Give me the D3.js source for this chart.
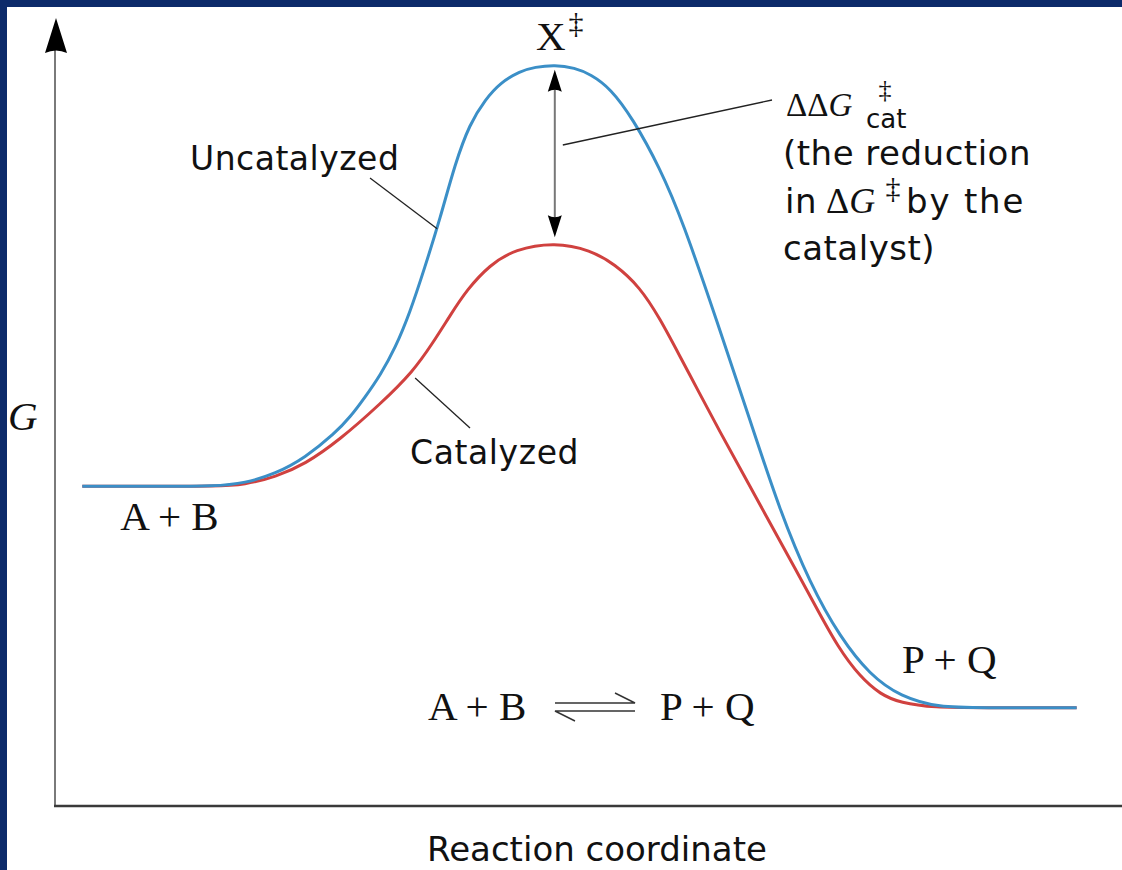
<!DOCTYPE html>
<html>
<head>
<meta charset="utf-8">
<script src="https://cdn.jsdelivr.net/npm/d3@7"></script>
<style>
  html, body { margin: 0; padding: 0; background: #0c2a6a; }
  #chart { width: 1122px; height: 870px; }
</style>
</head>
<body>
<div id="chart"></div>
<script>
// ============================
// Data
// ============================

// Uncatalyzed path: reaction coordinate vs free energy G
const uncatX = [2.6, 10.0, 15.2, 18.1, 21.0, 23.8, 26.7, 28.1, 29.5, 31.0, 32.4, 33.8, 35.2, 36.7, 38.1, 39.5, 41.0, 42.4,
                44.3, 45.7, 47.6, 49.5, 51.0, 52.9, 55.0, 57.6, 59.8, 63.0, 66.2, 69.0, 71.9, 74.8, 77.6, 80.5, 84.3, 88.0, 97.3];
const uncatG = [40.6, 40.6, 40.6, 41.0, 42.2, 44.2, 47.4, 49.4, 51.9, 54.8, 58.2, 62.7, 68.4, 74.8, 81.7, 86.8, 89.9, 92.0,
                93.5, 94.0, 94.3, 93.9, 93.1, 91.3, 87.5, 81.2, 74.3, 61.8, 49.0, 37.6, 28.2, 21.3, 16.6, 13.8, 12.4, 12.4, 12.4];

// Catalyzed path
const catX = [2.6, 10.0, 15.2, 18.1, 21.0, 23.8, 27.1, 31.0, 34.1, 36.0, 37.6, 39.2, 41.4, 43.8, 47.6, 51.0, 53.3,
              55.7, 57.6, 59.5, 61.4, 63.3, 65.7, 68.1, 70.5, 72.4, 74.6, 76.7, 78.6, 80.5, 83.8, 88.0, 97.3];
const catG = [40.6, 40.6, 40.6, 40.8, 41.8, 43.4, 46.5, 51.1, 55.2, 58.9, 62.3, 65.6, 68.8, 70.8, 71.7, 70.7, 68.9,
              66.0, 62.0, 57.2, 52.4, 47.6, 41.8, 35.9, 30.1, 25.4, 20.0, 16.3, 14.1, 13.0, 12.4, 12.4, 12.4];

const xTitle = "Reaction coordinate";
const yTitle = "G";

// ============================
// Intial setup
// ============================

const width = 1122;
const height = 870;
const border = 7;

const serif = "'Liberation Serif', 'Times New Roman', serif";
const sans = "'DejaVu Sans', sans-serif";

const blue = "#3b8fc7";
const red = "#d0413f";

const xscale = d3.scaleLinear().domain([0, 100]).range([55, 1105]);
const yscale = d3.scaleLinear().domain([0, 100]).range([805, 20]);

const svg = d3.select("#chart").append("svg")
  .attr("width", width)
  .attr("height", height)
  .attr("viewBox", [0, 0, width, height]);

// white panel inside the navy frame
svg.append("rect")
  .attr("x", border).attr("y", border)
  .attr("width", width - border).attr("height", height - border)
  .attr("fill", "#fff");

// ============================
// Axes
// ============================

const x0 = xscale.range()[0];
const y0 = yscale(0);

svg.append("line")
  .attr("x1", x0).attr("x2", x0)
  .attr("y1", y0).attr("y2", 50)
  .attr("stroke", "#7a7a7a").attr("stroke-width", 2);

// arrow head on the G axis
svg.append("path")
  .attr("d", `M${x0 + 1},18 L${x0 + 12},53 Q${x0 + 1},48 ${x0 - 10},53 Z`)
  .attr("fill", "#000");

svg.append("line")
  .attr("x1", x0 - 1).attr("x2", width)
  .attr("y1", y0 + 1).attr("y2", y0 + 1)
  .attr("stroke", "#3a3a3a").attr("stroke-width", 2.5);

svg.append("text")
  .attr("x", 8).attr("y", 430)
  .attr("font-family", serif).attr("font-style", "italic")
  .attr("font-size", 41).attr("fill", "#111")
  .text(yTitle);

svg.append("text")
  .attr("x", 597).attr("y", 861)
  .attr("text-anchor", "middle")
  .attr("font-family", sans).attr("font-size", 34).attr("fill", "#111")
  .text(xTitle);

// ============================
// Curves
// ============================

const line = d3.line()
  .curve(d3.curveBasis)
  .x(d => xscale(d[0]))
  .y(d => yscale(d[1]));

const uncatData = uncatX.map((d, i) => [d, uncatG[i]]);
const catData = catX.map((d, i) => [d, catG[i]]);

svg.append("path")
  .datum(catData)
  .attr("d", line)
  .attr("fill", "none").attr("stroke", red).attr("stroke-width", 3);

svg.append("path")
  .datum(uncatData)
  .attr("d", line)
  .attr("fill", "none").attr("stroke", blue).attr("stroke-width", 3);

// ============================
// Double arrow between the two peaks
// ============================

const peakU = uncatData[d3.maxIndex(uncatData, d => d[1])];
const peakC = catData[d3.maxIndex(catData, d => d[1])];
const ax = xscale(peakU[0]);
const aTop = yscale(peakU[1]) + 5;
const aBot = yscale(peakC[1]) - 5;

svg.append("line")
  .attr("x1", ax).attr("x2", ax)
  .attr("y1", aTop + 15).attr("y2", aBot - 15)
  .attr("stroke", "#777").attr("stroke-width", 2);

svg.append("path")
  .attr("d", `M${ax},${aTop} L${ax + 7},${aTop + 22} Q${ax},${aTop + 18} ${ax - 7},${aTop + 22} Z`)
  .attr("fill", "#000");
svg.append("path")
  .attr("d", `M${ax},${aBot} L${ax + 7},${aBot - 22} Q${ax},${aBot - 18} ${ax - 7},${aBot - 22} Z`)
  .attr("fill", "#000");

// ============================
// Labels & pointers
// ============================

const pointers = [
  [[370, 178], [xscale(36.4), yscale(73.4)]],
  [[xscale(34.3), yscale(54.4)], [470, 428]],
  [[ax + 8, 145], [772, 100]]
];
svg.append("g")
  .attr("stroke", "#222").attr("stroke-width", 1.3)
  .selectAll("line")
  .data(pointers)
  .join("line")
  .attr("x1", d => d[0][0]).attr("y1", d => d[0][1])
  .attr("x2", d => d[1][0]).attr("y2", d => d[1][1]);

function label(x, y, txt, family, size, style) {
  return svg.append("text")
    .attr("x", x).attr("y", y)
    .attr("font-family", family).attr("font-size", size)
    .attr("font-style", style || "normal")
    .attr("fill", "#111")
    .text(txt);
}

// transition state
label(ax - 4, 50, "X", serif, 41).attr("text-anchor", "middle");
label(576, 33, "‡", serif, 30).attr("text-anchor", "middle");

label(190, 170, "Uncatalyzed", sans, 33).attr("letter-spacing", 0.5);
label(410, 464, "Catalyzed", sans, 33).attr("letter-spacing", 0.6);

// ΔΔG‡cat annotation
const ddg = label(786, 116, "ΔΔ", serif, 33);
ddg.append("tspan").attr("font-style", "italic").text("G");
label(866, 128, "cat", sans, 26);
label(885, 98, "‡", serif, 26).attr("text-anchor", "middle");

label(783, 165, "(the reduction", sans, 34).attr("letter-spacing", 0.5);
label(785, 213, "in", sans, 34).attr("letter-spacing", 0.5);
const dg = label(826, 213, "Δ", serif, 36);
dg.append("tspan").attr("font-style", "italic").text("G");
label(893, 198, "‡", serif, 30).attr("text-anchor", "middle");
label(906, 213, "by the", sans, 34).attr("letter-spacing", 1.8);
label(783, 260, "catalyst)", sans, 34).attr("letter-spacing", 0.5);

// states
label(xscale(uncatX[0]) + 38, 530, "A + B", serif, 41);
label(902, 673, "P + Q", serif, 41);

// overall reaction
label(428, 720, "A + B", serif, 41);
label(660, 720, "P + Q", serif, 41);

const eq = svg.append("g").attr("stroke", "#333").attr("stroke-width", 1.4).attr("fill", "none");
eq.append("path").attr("d", "M555,703 L635,703 L615,693");
eq.append("path").attr("d", "M635,711 L555,711 L575,721");
</script>
</body>
</html>
